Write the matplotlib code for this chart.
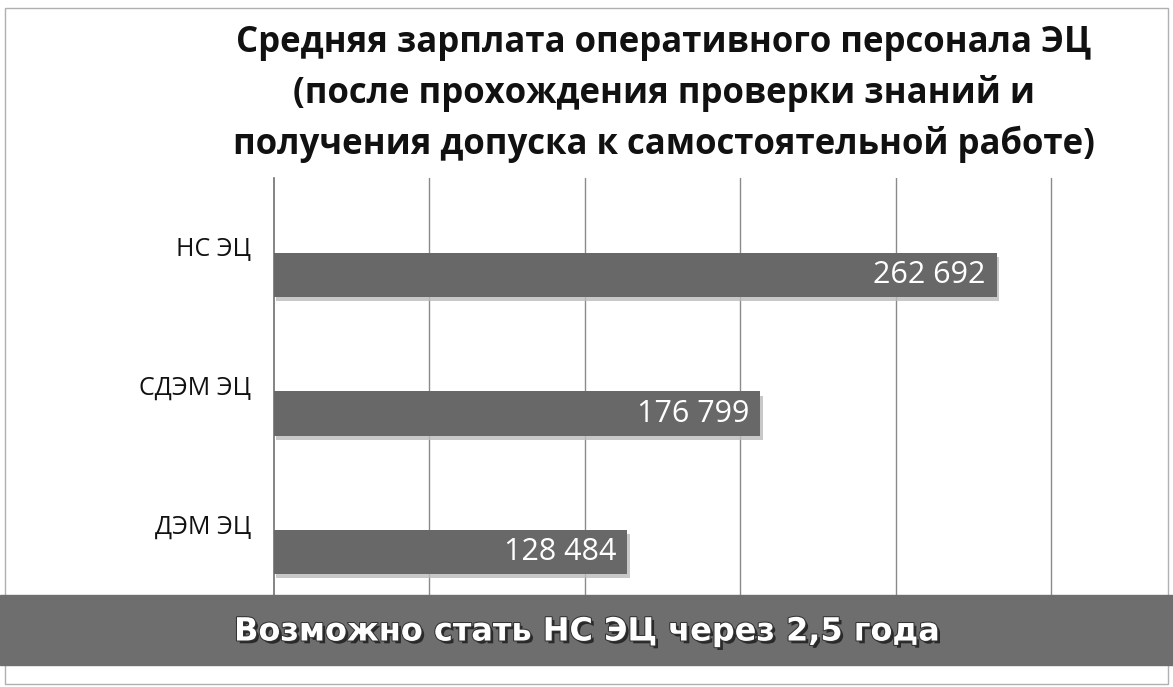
import matplotlib.pyplot as plt
import matplotlib.patheffects as pe
from matplotlib.patches import Rectangle

# data
categories = ['ДЭМ ЭЦ', 'СДЭМ ЭЦ', 'НС ЭЦ']
salaries = [128484, 176799, 262692]
title = ('Средняя зарплата оперативного персонала ЭЦ\n'
         '(после прохождения проверки знаний и\n'
         'получения допуска к самостоятельной работе)')
banner = 'Возможно стать НС ЭЦ через 2,5 года'

bar_color = '#686868'
grid_step = 56500

fig = plt.figure(figsize=(11.73, 6.87), dpi=100)
fig.patch.set_facecolor('white')

# thin frame round the picture
fig.patches.append(Rectangle((5 / 1173, 3 / 687), 1163 / 1173, 676 / 687,
                             transform=fig.transFigure, fill=False,
                             edgecolor='#b0b0b0', linewidth=1))

# plot area: x from 273 to 1090 px, y from 178 to 595 px
ax = fig.add_axes([273.5 / 1173, 92 / 687, (1090 - 273.5) / 1173, (687 - 178 - 92) / 687])

y_pos = list(range(len(categories)))
bars = ax.barh(y_pos, salaries, height=0.32, color=bar_color, zorder=3,
               path_effects=[pe.SimplePatchShadow(offset=(2, -3), shadow_rgbFace='#bbbbbb', alpha=0.8),
                             pe.Normal()])

ax.set_xlim(0, grid_step * 5.25)
ax.set_ylim(-0.31, 2.70)
ax.set_xticks([grid_step * i for i in range(1, 6)])
ax.xaxis.grid(True, color='#8a8a8a', linewidth=1)
ax.set_axisbelow(True)
ax.tick_params(left=False, bottom=False, labelbottom=False, labelleft=False)
for side in ['top', 'right', 'bottom']:
    ax.spines[side].set_visible(False)
ax.spines['left'].set_color('#707070')
ax.spines['left'].set_linewidth(1.2)

# category labels, a little above each bar
for y, name in zip(y_pos, categories):
    ax.annotate(name, xy=(0, y), xycoords=('axes fraction', 'data'),
                xytext=(-16, 18), textcoords='offset points',
                ha='right', va='center', fontsize=18, family='Open Sans', color='#111111')

# value labels inside the bars
for y, v in zip(y_pos, salaries):
    label = '{:,}'.format(v).replace(',', ' ')
    ax.annotate(label, xy=(v, y), xytext=(-8, 0), textcoords='offset points',
                ha='right', va='center', fontsize=22, family='Open Sans',
                color='white', zorder=4)

fig.text(664 / 1173, 1 - 94 / 687, title, ha='center', va='center',
         fontsize=25, fontweight='bold', family='Open Sans', color='#111111',
         linespacing=1.5)

# dark banner at the bottom
fig.patches.append(Rectangle((0, 1 - 665 / 687), 1, 70 / 687,
                             transform=fig.transFigure, color='#6e6e6e', zorder=5))
fig.text(587 / 1173, 1 - 632 / 687, banner, ha='center', va='center',
         fontsize=23, fontweight='bold', family='DejaVu Sans', color='white', zorder=6,
         path_effects=[pe.withSimplePatchShadow(offset=(2, -2), shadow_rgbFace='#222222', alpha=0.9),
                       pe.withStroke(linewidth=1.5, foreground='#333333')])

plt.savefig('out.png', dpi=100, facecolor='white')
